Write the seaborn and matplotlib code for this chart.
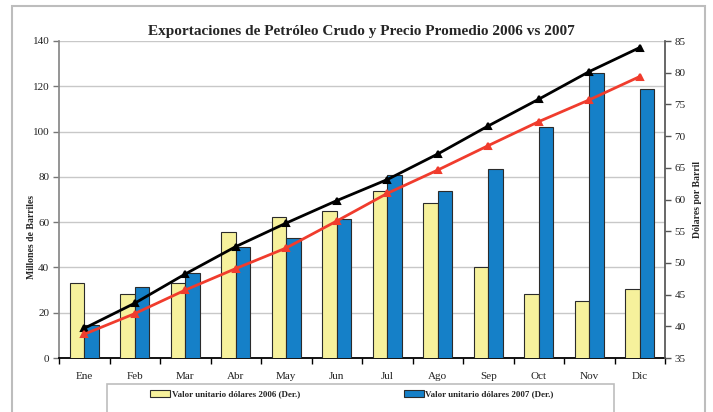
import numpy as np
import pandas as pd
import matplotlib
matplotlib.use('Agg')
import matplotlib.pyplot as plt
from matplotlib.patches import Patch, Rectangle
import seaborn as sns

# ==============================================================================
# Datos
# ==============================================================================
meses = ['Ene', 'Feb', 'Mar', 'Abr', 'May', 'Jun',
         'Jul', 'Ago', 'Sep', 'Oct', 'Nov', 'Dic']

# Precio (dólares por barril, eje derecho)
precio_2006 = [46.8, 45.1, 46.9, 54.8, 57.3, 58.2, 61.4, 59.4, 49.4, 45.1, 44.0, 45.9]
precio_2007 = [40.2, 46.2, 48.4, 52.5, 53.9, 57.0, 63.9, 61.3, 64.8, 71.5, 80.0, 77.4]

# Exportaciones acumuladas (millones de barriles, eje izquierdo)
volumen_2006 = [13.1, 24.2, 37.1, 49.2, 59.6, 69.5, 78.8, 90.1, 102.5, 114.3, 126.5, 137.1]
volumen_2007 = [10.5, 19.6, 30.0, 39.5, 48.6, 60.5, 72.7, 83.0, 93.8, 104.4, 114.0, 124.3]

etiqueta_2006 = 'Valor unitario dólares 2006 (Der.)'
etiqueta_2007 = 'Valor unitario dólares 2007 (Der.)'
etiqueta_vol_2006 = 'Millones de barriles 2006 (Izq.)'
etiqueta_vol_2007 = 'Millones de barriles 2007 (Izq.)'

amarillo = '#f6f19c'
azul = '#1580c8'
negro = '#000000'
rojo = '#f03c2d'

df_precio = pd.DataFrame({
    'Mes': meses * 2,
    'Precio': precio_2006 + precio_2007,
    'Serie': [etiqueta_2006] * 12 + [etiqueta_2007] * 12,
})
df_volumen = pd.DataFrame({
    'Mes': meses * 2,
    'Volumen': volumen_2006 + volumen_2007,
    'Serie': [etiqueta_vol_2006] * 12 + [etiqueta_vol_2007] * 12,
})

# ==============================================================================
# Gráfico
# ==============================================================================
sns.set_theme(style='white')
plt.rcParams['font.family'] = ['Liberation Serif', 'DejaVu Serif']

W, H = 713, 412
fig = plt.figure(figsize=(W / 100, H / 100), dpi=100)
fig.patch.set_facecolor('white')

# marco exterior gris
fig.patches.append(Rectangle((12 / W, -0.1), (705 - 12) / W, 1.1 - 6 / H,
                             transform=fig.transFigure, fill=False,
                             edgecolor='#bdbdbd', linewidth=1.5))

rect = [59 / W, (H - 358) / H, (665 - 59) / W, (358 - 41) / H]
ax = fig.add_axes(rect)          # eje izquierdo (rejilla)
ax2 = ax.twinx()                 # eje derecho (barras)
ax3 = ax.twinx()                 # líneas encima de las barras

sns.barplot(data=df_precio, x='Mes', y='Precio', hue='Serie',
            palette=[amarillo, azul], saturation=1, width=0.58, gap=0,
            edgecolor='#2b2b2b', linewidth=0.8, legend=False, ax=ax2)

sns.pointplot(data=df_volumen, x='Mes', y='Volumen', hue='Serie',
              palette=[negro, rojo], markers='^', linestyles='-',
              errorbar=None, dodge=False, legend=False,
              linewidth=2.0, markersize=4.5, ax=ax3)

ax.set_ylim(0, 140)
ax.set_yticks(np.arange(0, 141, 20))
ax3.set_ylim(0, 140)
ax2.set_ylim(35, 85)
ax2.set_yticks(np.arange(35, 86, 5))
ax.set_xlim(-0.5, 11.5)

ax.grid(axis='y', color='#c8c8c8', linewidth=1.0)
ax.grid(axis='x', visible=False)
ax2.grid(False)
ax3.grid(False)
ax3.axis('off')

# ticks del eje x en los límites de categoría, etiquetas en el centro
ax.set_xticks(np.arange(-0.5, 12, 1))
ax.set_xticklabels([])
ax.set_xticks(np.arange(len(meses)), minor=True)
ax.set_xticklabels(meses, minor=True)
ax.tick_params(axis='x', which='major', length=4, width=1, color='black',
               direction='out', bottom=True)
ax.tick_params(axis='x', which='minor', length=0, pad=10, labelsize=8,
               labelcolor='#222222')
ax.tick_params(axis='y', length=4, width=1, color='#777777', direction='out',
               left=True, labelsize=8, labelcolor='#222222', pad=3)
ax2.tick_params(axis='y', length=4, width=1, color='#555555', direction='out',
                right=True, labelsize=8, labelcolor='#222222', pad=3)

ax.set_xlabel('')
ax.set_ylabel('')
ax2.set_xlabel('')
ax2.set_ylabel('')

for a in (ax, ax2):
    for s in a.spines.values():
        s.set_visible(False)
ax.spines['left'].set_visible(True)
ax.spines['left'].set_color('#888888')
ax.spines['bottom'].set_visible(True)
ax.spines['bottom'].set_color('black')
ax.spines['bottom'].set_linewidth(1.3)
ax2.spines['right'].set_visible(True)
ax2.spines['right'].set_color('#555555')

# títulos y rótulos
fig.text(361 / W, 1 - 31 / H,
         'Exportaciones de Petróleo Crudo y Precio Promedio 2006 vs 2007',
         ha='center', va='center', fontsize=11, fontweight='bold')
fig.text(32 / W, 1 - 237 / H, 'Millones de Barriles', rotation=90,
         ha='center', va='center', fontsize=7, fontweight='bold')
fig.text(697 / W, 1 - 200 / H, 'Dólares por Barril', rotation=90,
         ha='center', va='center', fontsize=7, fontweight='bold')

# leyenda: el recuadro sigue por debajo del borde, como en el original
fig.patches.append(Rectangle((107 / W, -0.1), (614 - 107) / W, 0.1 + (H - 384) / H,
                             transform=fig.transFigure, fill=False,
                             edgecolor='#bdbdbd', linewidth=1.2))
handles = [
    Patch(facecolor=amarillo, edgecolor='#2b2b2b', linewidth=0.8, label=etiqueta_2006),
    Patch(facecolor=azul, edgecolor='#2b2b2b', linewidth=0.8, label=etiqueta_2007),
]
fig.legend(handles=handles, ncol=2, loc='upper left',
           bbox_to_anchor=(150 / W, 1 - 390 / H), frameon=False,
           borderpad=0, borderaxespad=0, handlelength=2.2, handleheight=0.8,
           handletextpad=0.2, columnspacing=11.5,
           prop={'family': 'Liberation Serif', 'weight': 'bold', 'size': 6.5})

fig.savefig('out.png', dpi=100)
